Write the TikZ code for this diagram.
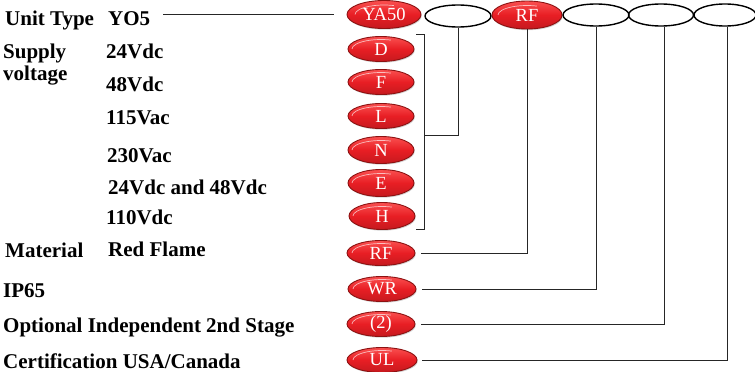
\documentclass[tikz,border=0pt]{standalone}
\usepackage{fontspec}
\setmainfont{Liberation Serif}
\usetikzlibrary{shapes.geometric,shadows}
\definecolor{pillred}{RGB}{232,30,36}
\definecolor{pilltop}{RGB}{250,80,80}
\definecolor{pilldark}{RGB}{140,18,18}
\tikzset{
  pill/.style={ellipse, minimum width=66pt, minimum height=25pt, inner sep=0pt,
    draw=pilldark, line width=0.9pt, top color=pilltop, bottom color=pillred!85!black,
    middle color=pillred, text=white, font=\fontsize{18.5}{18.5}\selectfont,
    drop shadow={shadow xshift=0.8pt, shadow yshift=-1.2pt, opacity=0.35},
    path picture={\draw[white, opacity=0.65, line width=0.7pt]
      ([xshift=-29pt]path picture bounding box.center)
      arc[start angle=180, end angle=70, x radius=29pt, y radius=9.5pt];}},
  blank/.style={ellipse, minimum width=66pt, minimum height=22pt, inner sep=0pt,
    draw=black, line width=1.4pt},
  lbl/.style={anchor=base west, inner sep=0pt, font=\fontsize{21}{22}\selectfont\bfseries},
  conn/.style={draw=black!85, line width=0.9pt}
}
\begin{document}
\begin{tikzpicture}[x=1pt,y=-1pt]
\useasboundingbox (0,0) rectangle (755,372);
% top row
\node[pill, minimum width=74pt, minimum height=28pt] (ya) at (384,14.5) {YA50};
\node[blank] (e1) at (458,16) {};
\node[pill, minimum width=70pt, minimum height=28pt] (rft) at (527,15) {RF};
\node[blank] (e2) at (596,15) {};
\node[blank, minimum width=65pt] (e3) at (661,15) {};
\node[blank, minimum width=62pt] (e4) at (725,15) {};
% left column pills
\node[pill] (D) at (381,49) {D};
\node[pill] (F) at (381,82) {F};
\node[pill] (L) at (381,116) {L};
\node[pill, minimum height=27pt] (N) at (381,150) {N};
\node[pill, minimum height=27pt] (E) at (381,183) {E};
\node[pill, minimum height=27pt] (H) at (382,216) {H};
\node[pill, minimum width=68pt] (RF) at (381,253) {RF};
\node[pill, minimum width=68pt] (WR) at (382,289) {WR};
\node[pill, minimum width=68pt] (two) at (381,324) {(2)};
\node[pill, minimum width=70pt] (UL) at (382,360) {UL};
% labels
\node[lbl] (t1) at (5,25) {Unit Type};
\node[lbl] (t2) at (108,25) {YO5};
\node[lbl] (t3) at (3,58) {Supply};
\node[lbl] (t4) at (3,80) {voltage};
\node[lbl] (v1) at (106,58) {24Vdc};
\node[lbl] (v2) at (106,91) {48Vdc};
\node[lbl] (v3) at (106,124) {115Vac};
\node[lbl] (v4) at (107,162) {230Vac};
\node[lbl] (v5) at (108,194) {24Vdc and 48Vdc};
\node[lbl] (v6) at (106,224) {110Vdc};
\node[lbl] (m1) at (5,257) {Material};
\node[lbl] (m2) at (108,256) {Red Flame};
\node[lbl] (ip) at (3,297) {IP65};
\node[lbl] (op) at (3,332) {Optional Independent 2nd Stage};
\node[lbl] (ce) at (3,368) {Certification USA/Canada};
% connectors
\coordinate (yoend) at (163,14);
\coordinate (yaend) at (334,14);
\draw[conn] (yoend) -- (yaend);
\coordinate (bt) at (424,34);
\coordinate (bb) at (424,229);
\coordinate (bm) at (424,135);
\draw[conn] (416,34) -- (bt) -- (bb) -- (416,229);
\draw[conn] (bm) -| (e1.south);
\draw[conn] (RF.east) ++(6pt,0) -| (rft.south);
\draw[conn] (WR.east) ++(6pt,0) -| (e2.south);
\draw[conn] (two.east) ++(6pt,0) -| ([xshift=3pt]e3.south);
\draw[conn] (UL.east) ++(5pt,0) -| ([xshift=2pt]e4.south);
\end{tikzpicture}
\end{document}
